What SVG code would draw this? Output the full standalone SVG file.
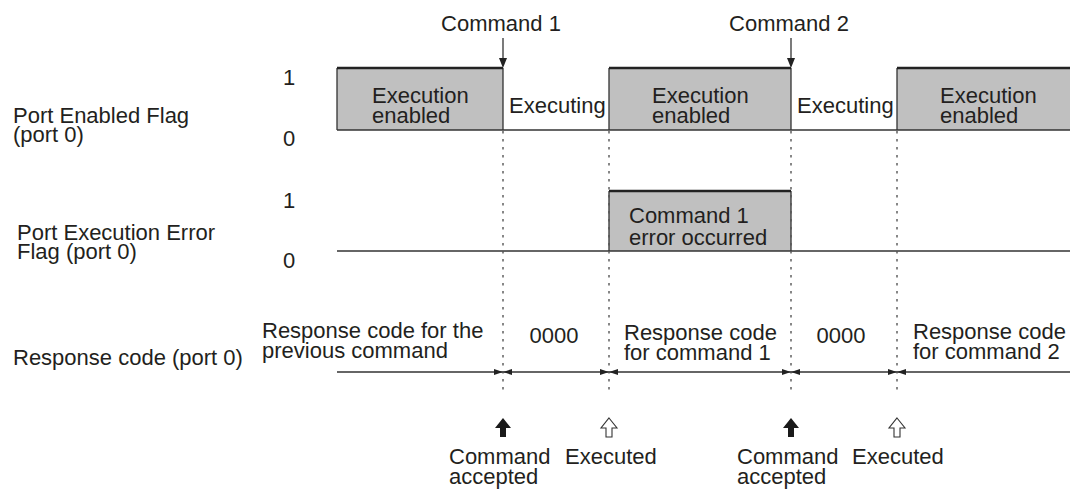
<svg xmlns="http://www.w3.org/2000/svg" width="1070" height="489" viewBox="0 0 1070 489">
<style>
text{font-family:"Liberation Sans",Arial,sans-serif;font-size:22px;fill:#231f20}
.box{fill:#c0c0c0;stroke:none}
.edge{stroke:#333;stroke-width:1.3;fill:none}
.top{stroke:#222;stroke-width:2.6;fill:none}
.dash{stroke:#555;stroke-width:1.4;stroke-dasharray:2.5 5.5;fill:none}
</style>
<defs>
<g id="bow"><path d="M-9,-3 L0,0 L-9,3 Z M9,-3 L0,0 L9,3 Z" fill="#222"/></g>
<path id="upArrow" d="M0,0 L8,10 L3,10 L3,19 L-3,19 L-3,10 L-8,10 Z"/>
<path id="downHead" d="M-4,-10 L4,-10 L0,0 Z" fill="#222"/>
</defs>

<g id="row-labels">
<text x="13" y="123">Port Enabled Flag<tspan x="13" dy="19">(port 0)</tspan></text>
<text x="283" y="85">1</text>
<text x="283" y="146">0</text>
<text x="17" y="240">Port Execution Error<tspan x="17" dy="19">Flag (port 0)</tspan></text>
<text x="283" y="208">1</text>
<text x="283" y="268">0</text>
<text x="13" y="365">Response code (port 0)</text>
</g>

<g id="port-enabled-flag">
<rect class="box" x="337" y="68" width="166" height="62"/>
<rect class="box" x="609" y="68" width="182" height="62"/>
<rect class="box" x="897" y="68" width="173" height="62"/>
<line class="edge" x1="337" y1="130" x2="1070" y2="130"/>
<path class="edge" d="M337,130 V68 M503,68 V130 M609,130 V68 M791,68 V130 M897,130 V68"/>
<path class="top" d="M337,68 H503 M609,68 H791 M897,68 H1070"/>
<text x="372" y="103">Execution<tspan x="372" dy="20">enabled</tspan></text>
<text x="509" y="113">Executing</text>
<text x="652" y="103">Execution<tspan x="652" dy="20">enabled</tspan></text>
<text x="797" y="113">Executing</text>
<text x="940" y="103">Execution<tspan x="940" dy="20">enabled</tspan></text>
</g>

<g id="error-flag">
<rect class="box" x="609" y="191" width="182" height="60"/>
<line class="edge" x1="337" y1="251" x2="1070" y2="251"/>
<path class="edge" d="M609,251 V191 M791,191 V251"/>
<path class="top" d="M609,191 H791"/>
<text x="629" y="223">Command 1<tspan x="629" dy="22">error occurred</tspan></text>
</g>

<g id="response-code">
<line class="edge" x1="337" y1="372" x2="1070" y2="372"/>
<text x="262" y="338">Response code for the<tspan x="262" dy="20">previous command</tspan></text>
<text x="554" y="343" text-anchor="middle">0000</text>
<text x="624" y="340">Response code<tspan x="624" dy="20">for command 1</tspan></text>
<text x="841" y="343" text-anchor="middle">0000</text>
<text x="913" y="339">Response code<tspan x="913" dy="20">for command 2</tspan></text>
</g>

<g id="command-labels">
<text x="501" y="31" text-anchor="middle">Command 1</text>
<text x="789" y="31" text-anchor="middle">Command 2</text>
</g>

<g id="bottom-labels">
<text x="449" y="464">Command<tspan x="449" dy="20">accepted</tspan></text>
<text x="565" y="464">Executed</text>
<text x="737" y="464">Command<tspan x="737" dy="20">accepted</tspan></text>
<text x="852" y="464">Executed</text>
</g>

<g id="connectors">
<line class="edge" x1="503" y1="38" x2="503" y2="60"/>
<use href="#downHead" x="503" y="68"/>
<line class="edge" x1="791" y1="38" x2="791" y2="60"/>
<use href="#downHead" x="791" y="68"/>
<path class="dash" d="M503,131 V395 M609,131 V395 M791,131 V395 M897,131 V395"/>
<use href="#bow" x="503" y="372"/>
<use href="#bow" x="609" y="372"/>
<use href="#bow" x="791" y="372"/>
<use href="#bow" x="897" y="372"/>
<use href="#upArrow" x="503" y="418" fill="#1a1a1a"/>
<use href="#upArrow" x="609" y="418" fill="#fff" stroke="#333" stroke-width="1.1"/>
<use href="#upArrow" x="791" y="418" fill="#1a1a1a"/>
<use href="#upArrow" x="897" y="418" fill="#fff" stroke="#333" stroke-width="1.1"/>
</g>
</svg>
